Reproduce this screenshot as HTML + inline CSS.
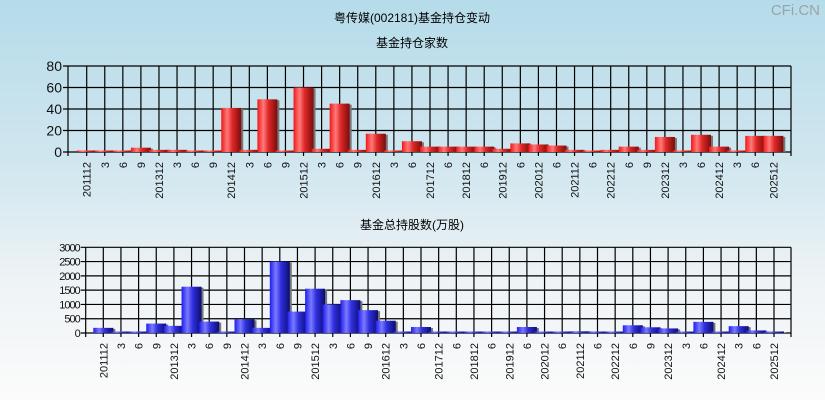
<!DOCTYPE html>
<html><head><meta charset="utf-8"><style>
html,body{margin:0;padding:0}
body{width:825px;height:400px;overflow:hidden;background:linear-gradient(#b5dbea 0%,#d4e8f0 45%,#eef3f6 70%,#fbfbfb 100%);font-family:"Liberation Sans","Noto Sans CJK SC",sans-serif}
</style></head><body>
<svg id="s" width="825" height="400" xmlns="http://www.w3.org/2000/svg" style="position:absolute;left:0;top:0">
<defs>
<linearGradient id="gr" x1="0" x2="1" y1="0" y2="0"><stop offset="0" stop-color="#f01818"/><stop offset="0.3" stop-color="#ff7a7a"/><stop offset="0.55" stop-color="#e02828"/><stop offset="1" stop-color="#7a0c0c"/></linearGradient>
<linearGradient id="gb" x1="0" x2="1" y1="0" y2="0"><stop offset="0" stop-color="#1e1ef0"/><stop offset="0.3" stop-color="#7a7aff"/><stop offset="0.55" stop-color="#3030e0"/><stop offset="1" stop-color="#0c0c70"/></linearGradient>
</defs>
<text x="412" y="22" font-size="12" text-anchor="middle" fill="#000">粤传媒(002181)基金持仓变动</text>
<text x="412" y="47" font-size="12" text-anchor="middle" fill="#000">基金持仓家数</text>
<text x="412" y="229" font-size="12" text-anchor="middle" fill="#000">基金总持股数(万股)</text>
<text x="820" y="15" font-size="15" text-anchor="end" fill="#9aa4a8">CFi.CN</text>
<g id="g"></g>
</svg>
<script>
var L=["201112","3","6","9","201312","3","6","9","201412","3","6","9","201512","3","6","9","201612","3","6","201712","6","201812","6","201912","6","202012","6","202112","6","202212","6","9","202312","3","6","202412","3","6","202512"];
var topV=[1,1,1,4,2,2,1,1,41,2,49,1,60,3,45,2,17,1,10,5,5,5,5,3,8,7,6,2,1,2,5,2,14,1,16,5,1,15,15];
var botV=[180,30,30,330,250,1620,400,30,480,180,2500,750,1550,1000,1150,800,430,30,210,20,20,20,20,20,210,20,20,60,20,20,270,200,160,20,390,20,240,90,20];
var g=document.getElementById('g'),h='';
function chart(o){
 var n=L.length,sp=(o.xl-o.x0)/(n-1),H=o.yb-o.yt;
 // grid
 for(var k=0;k<=o.nt;k++){var y=o.yb-H*k/o.nt;
  h+='<line x1="'+(o.xa-5)+'" x2="'+o.xr+'" y1="'+y+'" y2="'+y+'" stroke="#000" stroke-width="1.2"/>';
  h+='<text x="'+(o.xa-6)+'" y="'+(y+o.fs*0.36)+'" font-size="'+o.fs+'" text-anchor="end" fill="#111"'+(o.tl?' letter-spacing="-1"':'')+'>'+(k*o.max/o.nt)+'</text>';}
 h+='<line x1="'+o.xa+'" x2="'+o.xa+'" y1="'+o.yt+'" y2="'+(o.yb+4)+'" stroke="#000" stroke-width="1.2"/>';
 h+='<line x1="'+o.xr+'" x2="'+o.xr+'" y1="'+o.yt+'" y2="'+(o.yb+4)+'" stroke="#000" stroke-width="1.2"/>';
 for(var i=0;i<n;i++){var x=o.x0+sp*i;
  h+='<line x1="'+x+'" x2="'+x+'" y1="'+o.yt+'" y2="'+(o.yb+4)+'" stroke="#000" stroke-width="1.2"/>';
  h+='<text transform="translate('+(x+4)+','+(o.yb+10)+') rotate(-90)" font-size="11" text-anchor="end" fill="#111">'+L[i]+'</text>';}
 // bars
 for(var i=0;i<n;i++){var x=o.x0+sp*i,v=o.v[i],bh=v/o.max*H;if(bh<1.5)bh=1.5;var w=20;
  h+='<rect x="'+(x-w/2+2)+'" y="'+(o.yb-bh+1)+'" width="'+w+'" height="'+(bh-1)+'" fill="#777"/>';
  h+='<rect x="'+(x-w/2)+'" y="'+(o.yb-bh)+'" width="'+w+'" height="'+bh+'" fill="url(#'+o.f+')"/>';}
}
chart({x0:86.7,xl:773.3,xa:68,xr:791,yt:66,yb:152,max:80,nt:4,v:topV,f:'gr',fs:14});
chart({x0:103.3,xl:774,xa:85.7,xr:791,yt:247.3,yb:333,max:3000,nt:6,v:botV,f:'gb',fs:11,tl:1});
g.innerHTML=h;
</script>
</body></html>
